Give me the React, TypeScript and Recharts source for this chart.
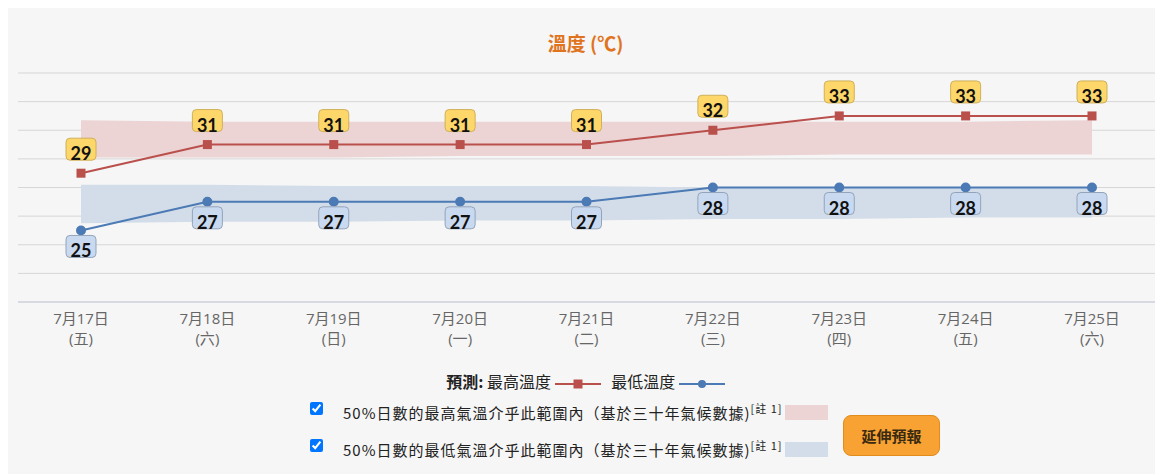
import { ComposedChart, Line, Area, XAxis, YAxis, CartesianGrid, LabelList } from 'recharts'

const days = ['7月17日', '7月18日', '7月19日', '7月20日', '7月21日', '7月22日', '7月23日', '7月24日', '7月25日']
const weekdays = ['五', '六', '日', '一', '二', '三', '四', '五', '六']
const maxTemps = [29, 31, 31, 31, 31, 32, 33, 33, 33]
const minTemps = [25, 27, 27, 27, 27, 28, 28, 28, 28]
// 50% 氣候範圍 (估計值)
const maxBandHigh = [32.7, 32.6, 32.6, 32.6, 32.6, 32.6, 32.6, 32.6, 32.7]
const maxBandLow = [30.1, 30.1, 30.1, 30.2, 30.2, 30.2, 30.3, 30.3, 30.3]
const minBandHigh = [28.2, 28.2, 28.1, 28.1, 28.1, 28.0, 28.0, 28.0, 28.0]
const minBandLow = [25.5, 25.6, 25.6, 25.7, 25.7, 25.8, 25.8, 25.9, 25.9]
const yTicks = [20, 22, 24, 26, 28, 30, 32, 34, 36]

const RED = '#b9504c'
const BLUE = '#4b7ab5'
const RED_BAND = '#ecd3d4'
const BLUE_BAND = '#d3dde9'
const CJK = '"Noto Sans CJK TC", "Noto Sans", sans-serif'

const data = days.map((d, i) => ({
  day: d,
  wd: weekdays[i],
  max: maxTemps[i],
  min: minTemps[i],
  maxBand: [maxBandLow[i], maxBandHigh[i]],
  minBand: [minBandLow[i], minBandHigh[i]],
}))

function DayTick(props: any) {
  const { x, y, payload, index } = props
  const font = '"Open Sans", ' + CJK
  return (
    <g>
      <text x={x} y={y + 14} textAnchor="middle" fill="#666" fontSize={15} fontFamily={font}>
        {payload.value}
      </text>
      <text x={x} y={y + 34} textAnchor="middle" fill="#666" fontSize={15} fontFamily={font}>
        ({weekdays[index]})
      </text>
    </g>
  )
}

function SquareDot(props: any) {
  const { cx, cy } = props
  return <rect x={cx - 4.5} y={cy - 4.5} width={9} height={9} fill={RED} />
}

function HighBadge(props: any) {
  const { x, y, value } = props
  return (
    <g>
      <rect x={x - 15} y={y - 35} width={30} height={22} rx={4} fill="#fdd76a" stroke="#cfb05a" strokeWidth={1} />
      <text x={x} y={y - 13} textAnchor="middle" fontSize={18} fontWeight="bold" fontFamily="Lato, sans-serif" fill="#111">
        {value}
      </text>
    </g>
  )
}

function LowBadge(props: any) {
  const { x, y, value } = props
  return (
    <g>
      <rect x={x - 15} y={y + 5} width={30} height={22} rx={4} fill="#c9daf0" stroke="#93a4ba" strokeWidth={1} />
      <text x={x} y={y + 27} textAnchor="middle" fontSize={18} fontWeight="bold" fontFamily="Lato, sans-serif" fill="#111">
        {value}
      </text>
    </g>
  )
}

function LegendIcon({ color, square }: { color: string; square: boolean }) {
  return (
    <svg width={46} height={14} style={{ verticalAlign: 'middle' }}>
      <line x1={0} y1={7} x2={46} y2={7} stroke={color} strokeWidth={2} />
      {square ? <rect x={18.5} y={2.5} width={9} height={9} fill={color} /> : <circle cx={23} cy={7} r={4} fill={color} />}
    </svg>
  )
}

export default function App() {
  const rowText = { position: 'absolute' as const, left: 335, fontSize: 15, letterSpacing: 1, color: '#222', fontFamily: CJK, whiteSpace: 'nowrap' as const }
  return (
    <div style={{ position: 'relative', width: 1155, height: 466, background: '#f6f6f6', fontFamily: CJK }}>
      <div style={{ position: 'absolute', left: 0, width: 1155, top: 21, textAlign: 'center', color: '#e0741e', fontWeight: 'bold', fontSize: 19 }}>
        溫度 (℃)
      </div>
      <ComposedChart width={1155} height={350} data={data} margin={{ top: 65, right: 8, bottom: 0, left: 10 }}>
        <CartesianGrid vertical={false} stroke="#d6d6d6" />
        <XAxis dataKey="day" tick={<DayTick />} tickLine={false} axisLine={{ stroke: '#ccd' }} padding={{ left: 63, right: 63 }} height={56} interval={0} />
        <YAxis hide domain={[20, 36]} ticks={yTicks} />
        <Area dataKey="maxBand" stroke="none" fill={RED_BAND} fillOpacity={1} isAnimationActive={false} />
        <Area dataKey="minBand" stroke="none" fill={BLUE_BAND} fillOpacity={1} isAnimationActive={false} />
        <Line dataKey="max" stroke={RED} strokeWidth={2} dot={<SquareDot />} activeDot={false} isAnimationActive={false}>
          <LabelList dataKey="max" content={<HighBadge />} />
        </Line>
        <Line dataKey="min" stroke={BLUE} strokeWidth={2} dot={{ r: 4, fill: BLUE, stroke: BLUE }} activeDot={false} isAnimationActive={false}>
          <LabelList dataKey="min" content={<LowBadge />} />
        </Line>
      </ComposedChart>
      <div style={{ position: 'absolute', left: 0, width: 1155, top: 361, textAlign: 'center', fontSize: 16, color: '#222' }}>
        <b>預測:</b> 最高溫度 <LegendIcon color={RED} square={true} /> &nbsp; 最低溫度 <LegendIcon color={BLUE} square={false} />
      </div>
      <input type="checkbox" defaultChecked style={{ position: 'absolute', left: 302, top: 394, margin: 0, width: 13, height: 13 }} />
      <div style={{ ...rowText, top: 392 }}>
        50%日數的最高氣溫介乎此範圍內（基於三十年氣候數據)<sup style={{ fontSize: 11 }}>[註 1]</sup>
      </div>
      <div style={{ position: 'absolute', left: 777, top: 397, width: 43, height: 15, background: RED_BAND }} />
      <input type="checkbox" defaultChecked style={{ position: 'absolute', left: 302, top: 431, margin: 0, width: 13, height: 13 }} />
      <div style={{ ...rowText, top: 429 }}>
        50%日數的最低氣溫介乎此範圍內（基於三十年氣候數據)<sup style={{ fontSize: 11 }}>[註 1]</sup>
      </div>
      <div style={{ position: 'absolute', left: 777, top: 434, width: 43, height: 15, background: BLUE_BAND }} />
      <div
        style={{
          position: 'absolute', left: 835, top: 407, width: 95, height: 39, background: '#f7a233', border: '1px solid #e08d1e',
          borderRadius: 8, display: 'flex', alignItems: 'center', justifyContent: 'center', fontWeight: 'bold', fontSize: 15, color: '#3a2a10',
        }}
      >
        延伸預報
      </div>
    </div>
  )
}
